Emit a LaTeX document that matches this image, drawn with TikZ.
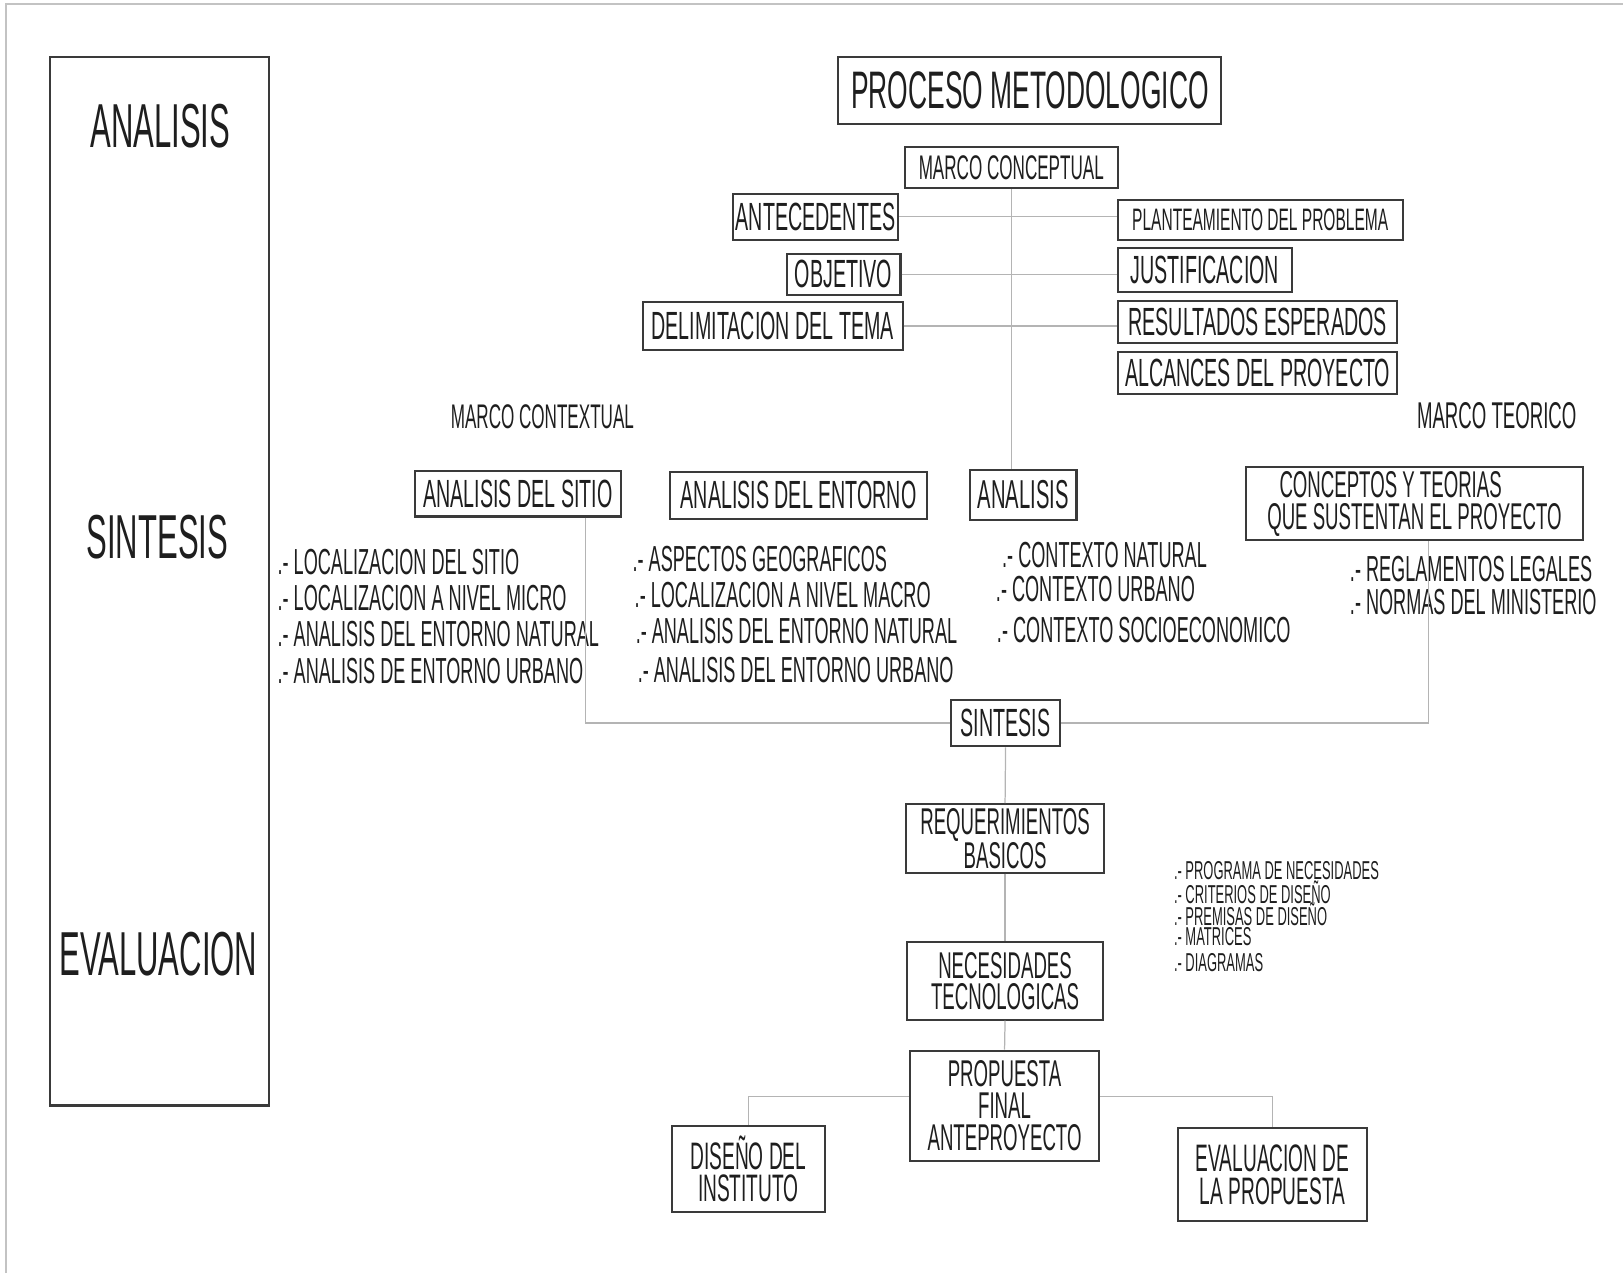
\documentclass[tikz,border=0pt]{standalone}
\usepackage{fontspec}
\setmainfont{Liberation Sans}[FakeStretch=0.5]
\usepackage{tikz}
\newcommand\letra[1]{\fontsize{#1}{#1}\selectfont}
\definecolor{trazo}{HTML}{3A3A3A}
\definecolor{linea}{HTML}{B4B4B4}
\definecolor{tinta}{HTML}{1E1E1E}

\begin{document}
\begin{tikzpicture}[x=1pt,y=-1pt,
  caja/.style={draw=trazo,line width=2pt,inner sep=0pt,align=center,text=tinta},
  conector/.style={draw=linea,line width=1.2pt},
  item/.style={anchor=west,inner sep=0pt,text=tinta,font=\letra{35}}]
  \useasboundingbox (0,0) rectangle (1568,1230);
  \draw [line width=2pt,color=linea!80] (6,1230) -- (6,4) -- (1568,4);

  % columna de fases
  \node [caja,minimum width=212,minimum height=1013] (fases) at (154,561.5) {};
  \node [text=tinta,font=\letra{60}] (f-analisis) at (155,122) {ANALISIS};
  \node [text=tinta,font=\letra{60}] (f-sintesis) at (152,519) {SINTESIS};
  \node [text=tinta,font=\letra{60}] (f-evaluacion) at (153,922) {EVALUACION};

  % marco conceptual
  \node [caja,minimum width=370,minimum height=65,font=\letra{51}] (titulo) at (995,87.5) {PROCESO METODOLOGICO};
  \node [caja,minimum width=206,minimum height=40,font=\letra{33}] (marcoc) at (977,162) {MARCO CONCEPTUAL};
  \node [caja,minimum width=160,minimum height=45,font=\letra{38}] (antec) at (788,209.5) {ANTECEDENTES};
  \node [caja,minimum width=275,minimum height=39,font=\letra{30}] (plant) at (1217.5,212.5) {PLANTEAMIENTO DEL PROBLEMA};
  \node [caja,minimum width=110,minimum height=40,font=\letra{38}] (objet) at (815,265) {OBJETIVO};
  \node [caja,minimum width=168,minimum height=42,font=\letra{38}] (justif) at (1164,261) {JUSTIFICACION};
  \node [caja,minimum width=251,minimum height=46,font=\letra{38}] (delim) at (746.5,315) {DELIMITACION DEL TEMA};
  \node [caja,minimum width=270,minimum height=40,font=\letra{38}] (result) at (1215,311) {RESULTADOS ESPERADOS};
  \node [caja,minimum width=270,minimum height=41,font=\letra{38}] (alcanc) at (1215,360.5) {ALCANCES DEL PROYECTO};

  \draw [conector] (antec.east) -- (antec.east -| plant.west);
  \draw [conector] (objet.east) -- (objet.east -| justif.west);
  \draw [conector] (delim.east) -- (delim.east -| result.west);

  % marco contextual y teorico
  \node [text=tinta,font=\letra{33}] (mcontext) at (524,403) {MARCO CONTEXTUAL};
  \node [text=tinta,font=\letra{36}] (mteorico) at (1446,402) {MARCO TEORICO};

  \node [caja,minimum width=199,minimum height=44,font=\letra{38}] (sitio) at (500.5,477) {ANALISIS DEL SITIO};
  \node [caja,minimum width=249,minimum height=45,font=\letra{38}] (entorno) at (771.5,478.5) {ANALISIS DEL ENTORNO};
  \node [caja,minimum width=103,minimum height=48,font=\letra{39}] (analisis) at (988.5,478) {ANALISIS};
  \node [caja,minimum width=325,minimum height=71,font={\fontsize{36}{31}\selectfont}] (conceptos) at (1366.5,486.5)
    {CONCEPTOS Y TEORIAS\hspace*{46pt}\\QUE SUSTENTAN EL PROYECTO};

  \draw [conector] (marcoc.south) -- (marcoc.south |- analisis.north);

  \node [item] (sitio-1) at (268,543) {.- LOCALIZACION DEL SITIO};
  \node [item] (sitio-2) at (268,578) {.- LOCALIZACION A NIVEL MICRO};
  \node [item] (sitio-3) at (268,613) {.- ANALISIS DEL ENTORNO NATURAL};
  \node [item] (sitio-4) at (268,648) {.- ANALISIS DE ENTORNO URBANO};

  \node [item] (entorno-1) at (611,540) {.- ASPECTOS GEOGRAFICOS};
  \node [item] (entorno-2) at (613,575) {.- LOCALIZACION A NIVEL MACRO};
  \node [item] (entorno-3) at (614,610) {.- ANALISIS DEL ENTORNO NATURAL};
  \node [item] (entorno-4) at (616,647) {.- ANALISIS DEL ENTORNO URBANO};

  \node [item] (analisis-1) at (968,536) {.- CONTEXTO NATURAL};
  \node [item] (analisis-2) at (962,569) {.- CONTEXTO URBANO};
  \node [item] (analisis-3) at (963,609) {.- CONTEXTO SOCIOECONOMICO};

  \node [item] (teoria-1) at (1304,550) {.- REGLAMENTOS LEGALES};
  \node [item] (teoria-2) at (1304,582) {.- NORMAS DEL MINISTERIO};

  % sintesis y propuesta
  \node [caja,minimum width=105,minimum height=45,font=\letra{38}] (sintesis) at (971.5,698.5) {SINTESIS};
  \node [caja,minimum width=192,minimum height=66,font={\fontsize{36}{30}\selectfont}] (requer) at (971,810) {REQUERIMIENTOS\\BASICOS};
  \node [caja,minimum width=190,minimum height=75,font={\fontsize{36}{30}\selectfont}] (necesid) at (971,947.5) {NECESIDADES\\TECNOLOGICAS};
  \node [caja,minimum width=183,minimum height=107,font={\fontsize{36}{31}\selectfont}] (propuesta) at (970.5,1068.5) {PROPUESTA\\FINAL\\ANTEPROYECTO};
  \node [caja,minimum width=148,minimum height=83,font={\fontsize{37}{31}\selectfont}] (diseno) at (723,1129.5) {DISEÑO DEL\\INSTITUTO};
  \node [caja,minimum width=183,minimum height=90,font={\fontsize{37}{31}\selectfont}] (evalu) at (1229.5,1135) {EVALUACION DE\\LA PROPUESTA};

  \draw [conector] ([xshift=65.5]sitio.south) |- (sintesis.west);
  \draw [conector] ([xshift=13.5]conceptos.south) |- (sintesis.east);
  \draw [conector] (sintesis.south) -- (requer.north);
  \draw [conector] (requer.south) -- (necesid.north);
  \draw [conector] (necesid.south) -- (propuesta.north);
  \draw [conector] ([yshift=9.5]propuesta.west) -| (diseno.north);
  \draw [conector] ([yshift=9.5]propuesta.east) -| (evalu.north);

  \node [item,font=\letra{25}] (req-1) at (1134,841) {.- PROGRAMA DE NECESIDADES};
  \node [item,font=\letra{25}] (req-2) at (1134,862) {.- CRITERIOS DE DISEÑO};
  \node [item,font=\letra{25}] (req-3) at (1134,883) {.- PREMISAS DE DISEÑO};
  \node [item,font=\letra{25}] (req-4) at (1134,905) {.- MATRICES};
  \node [item,font=\letra{25}] (req-5) at (1134,930) {.- DIAGRAMAS};
\end{tikzpicture}
\end{document}
